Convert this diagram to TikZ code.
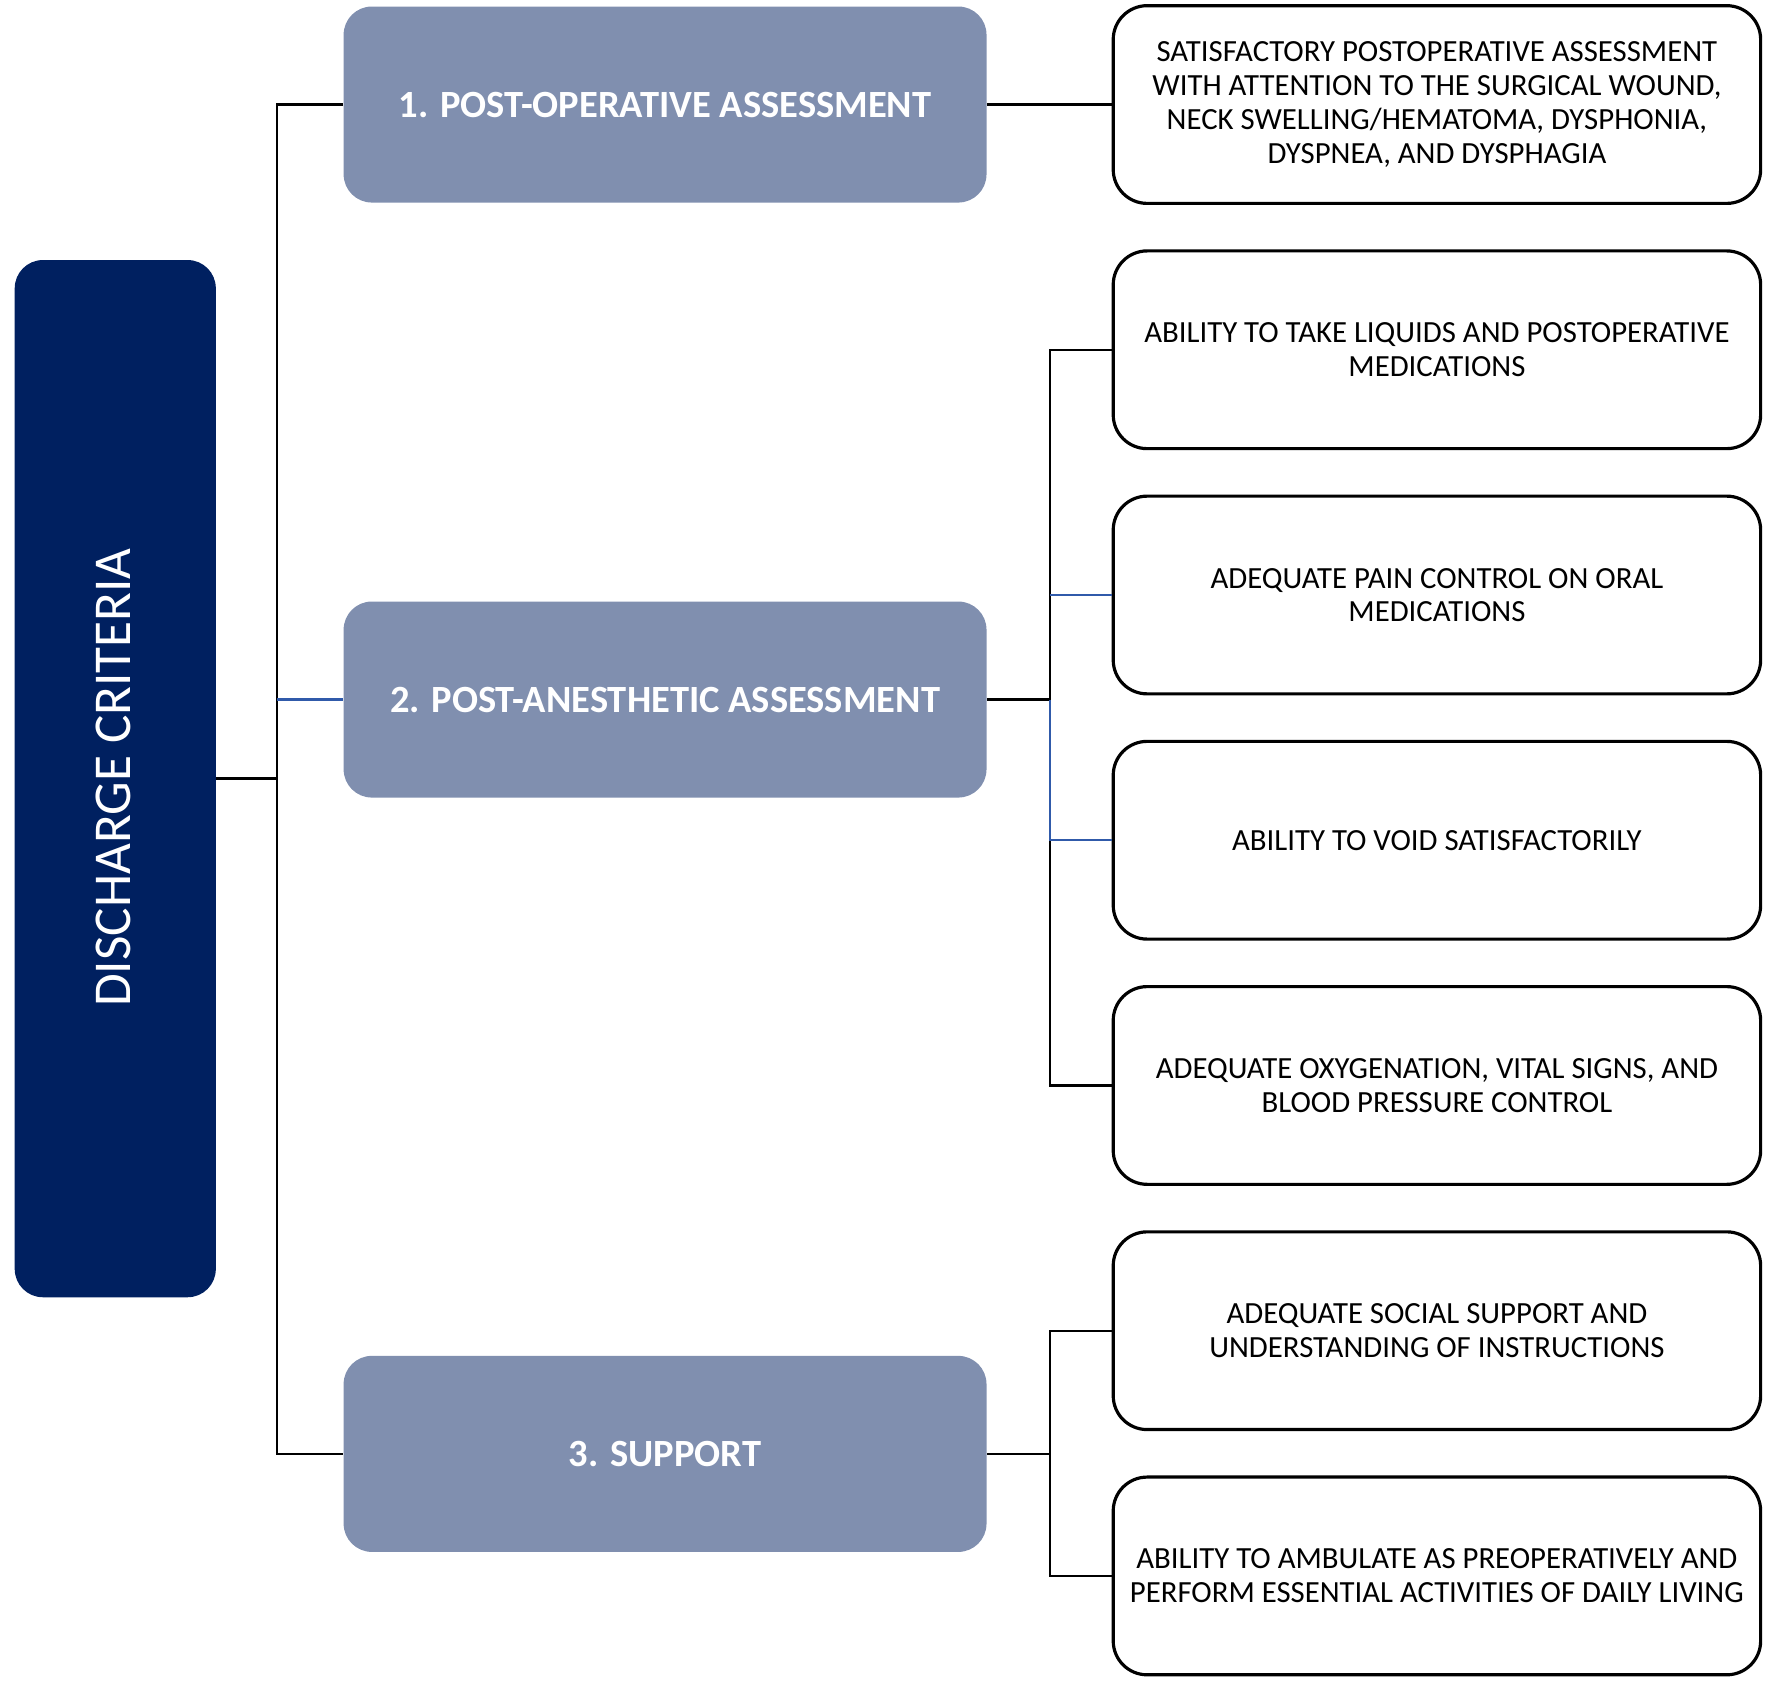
\documentclass[tikz,border=0pt]{standalone}
\usepackage{fontspec}
\setmainfont{Carlito}
\definecolor{navy}{RGB}{0,32,96}
\definecolor{slate}{RGB}{128,143,175}
\definecolor{lineblue}{RGB}{48,90,170}
\begin{document}
\begin{tikzpicture}[x=0.02cm,y=-0.02cm,
  darkbox/.style={fill=navy,draw=none,rounded corners=0.5cm,minimum width=3.56cm,minimum height=18.36cm,inner sep=0pt},
  graybox/.style={fill=slate,draw=none,rounded corners=0.5cm,minimum width=11.38cm,minimum height=3.47cm,inner sep=0pt,
    text=white,font=\fontsize{19.4}{21}\selectfont\bfseries},
  critbox/.style={fill=white,draw=black,line width=1.6pt,rounded corners=0.6cm,minimum width=11.46cm,minimum height=3.5cm,inner sep=0pt,
    align=center,font=\fontsize{15.5}{17}\selectfont},
  conn/.style={draw=black,line width=1.2pt},
  bconn/.style={draw=lineblue,line width=1.2pt}]
\useasboundingbox (0,0) rectangle (1568,1487);
% main boxes
\node[darkbox] (dc) at (102,689) {};
\node[rotate=90,text=white,font=\fontsize{26.8}{28}\selectfont] (dct) at (100,688) {DISCHARGE CRITERIA};
\node[graybox] (b1) at (588.5,92.5) {1. POST-OPERATIVE ASSESSMENT};
\node[graybox] (b2) at (588.5,619) {2. POST-ANESTHETIC ASSESSMENT};
\node[graybox] (b3) at (588.5,1286.5) {3. SUPPORT};
% criteria boxes
\node[critbox] (r1) at (1271.5,92.5) {SATISFACTORY POSTOPERATIVE ASSESSMENT\\WITH ATTENTION TO THE SURGICAL WOUND,\\NECK SWELLING/HEMATOMA, DYSPHONIA,\\DYSPNEA, AND DYSPHAGIA};
\node[critbox] (r2) at (1271.5,309.5) {ABILITY TO TAKE LIQUIDS AND POSTOPERATIVE\\MEDICATIONS};
\node[critbox] (r3) at (1271.5,526.5) {ADEQUATE PAIN CONTROL ON ORAL\\MEDICATIONS};
\node[critbox] (r4) at (1271.5,743.5) {ABILITY TO VOID SATISFACTORILY};
\node[critbox] (r5) at (1271.5,960.5) {ADEQUATE OXYGENATION, VITAL SIGNS, AND\\BLOOD PRESSURE CONTROL};
\node[critbox] (r6) at (1271.5,1177.5) {ADEQUATE SOCIAL SUPPORT AND\\UNDERSTANDING OF INSTRUCTIONS};
\node[critbox] (r7) at (1271.5,1394.5) {ABILITY TO AMBULATE AS PREOPERATIVELY AND\\PERFORM ESSENTIAL ACTIVITIES OF DAILY LIVING};
% junction coordinates
\coordinate (jl) at (245,689);
\coordinate (jm) at (929,619);
\coordinate (js) at (929,1286.5);
% left trunk
\draw[conn] (dc.east |- jl) -- (jl);
\draw[conn] (b1.west) -- (b1.west -| jl) -- (b3.west -| jl) -- (b3.west);
\draw[bconn] (b2.west -| jl) -- (b2.west);
% post-operative
\draw[conn] (b1.east) -- (r1.west);
% post-anesthetic
\draw[conn] (b2.east) -- (jm);
\draw[conn] (r2.west) -- (r2.west -| jm) -- (jm);
\draw[conn] (r4.west -| jm) -- (r5.west -| jm) -- (r5.west);
\draw[bconn] (jm) -- (r4.west -| jm) -- (r4.west);
\draw[bconn] (r3.west -| jm) -- (r3.west);
% support
\draw[conn] (b3.east) -- (js);
\draw[conn] (r6.west) -- (r6.west -| js) -- (r7.west -| js) -- (r7.west);
\end{tikzpicture}
\end{document}
